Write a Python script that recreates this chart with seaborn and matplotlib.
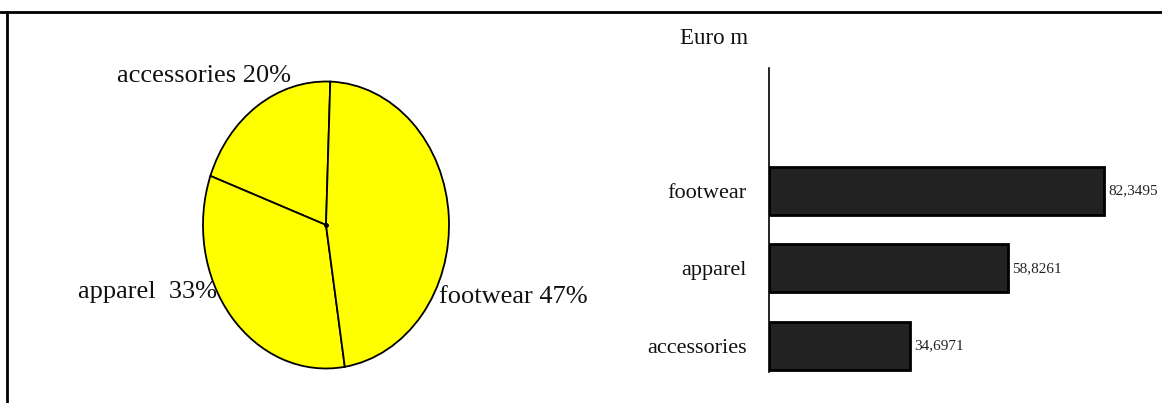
import matplotlib
matplotlib.use("Agg")
import matplotlib.pyplot as plt
import seaborn as sns
import pandas as pd
from matplotlib.lines import Line2D

# ---- data ----
pie_categories = ["accessories", "apparel", "footwear"]
pie_shares = [20, 33, 47]
bar_categories = ["footwear", "apparel", "accessories"]
bar_values = [82.3495, 58.8261, 34.6971]
bar_value_labels = ["82,3495", "58,8261", "34,6971"]
bar_unit = "Euro m"

sns.set_theme(style="white")
plt.rcParams["font.family"] = ["Liberation Serif", "DejaVu Serif"]

W, H = 1162, 403
fig = plt.figure(figsize=(W / 100, H / 100), dpi=100)
fig.patch.set_facecolor("white")

def px_axes(x0, y0, x1, y1):
    return fig.add_axes([x0 / W, 1 - y1 / H, (x1 - x0) / W, (y1 - y0) / H])

# frame lines (top and left)
fig.add_artist(Line2D([0, 1], [1 - 12 / H, 1 - 12 / H], transform=fig.transFigure,
                      color="black", lw=2))
fig.add_artist(Line2D([7 / W, 7 / W], [0, 1 - 12 / H], transform=fig.transFigure,
                      color="black", lw=2))

# ---- pie (elliptical) ----
cx, cy, rx, ry = 326, 225, 123, 143.5
lim = 1.6
axp = px_axes(cx - rx * lim, cy - ry * lim, cx + rx * lim, cy + ry * lim)
wedges, _ = axp.pie(pie_shares, colors=["#FFFF00"] * 3, startangle=88,
                    counterclock=True, radius=1.0,
                    wedgeprops=dict(edgecolor="black", linewidth=1.3))
axp.set_aspect("auto")
axp.set_xlim(-lim, lim)
axp.set_ylim(-lim, lim)
axp.axis("off")
axp.plot([0], [0], marker="o", ms=2.5, color="black")

def pie_text(px, py, s, ha):
    axp.text((px - cx) / rx, (cy - py) / ry, s, ha=ha, va="center",
             fontsize=19, color="#111111")

pie_text(291, 76, f"{pie_categories[0]} {pie_shares[0]}%", "right")
pie_text(217, 292, f"{pie_categories[1]}  {pie_shares[1]}%", "right")
pie_text(439, 297, f"{pie_categories[2]} {pie_shares[2]}%", "left")

# ---- horizontal bars ----
xmax = 90.0
ax = px_axes(769, 68, 769 + 335 * xmax / bar_values[0], 372)
df = pd.DataFrame({"category": bar_categories, "value": bar_values})
sns.barplot(data=df, x="value", y="category", orient="h", ax=ax,
            color="#222222", edgecolor="black", linewidth=2, width=0.62,
            saturation=1)
ax.set_xlim(0, xmax)
ax.set_ylim(2.34, -1.59)
ax.set_xlabel("")
ax.set_ylabel("")
ax.set_xticks([])
for s in ["top", "right", "bottom"]:
    ax.spines[s].set_visible(False)
ax.spines["left"].set_color("black")
ax.spines["left"].set_linewidth(1.2)
ax.tick_params(axis="y", length=0, pad=16, labelsize=16, labelcolor="#111111")
for t in ax.get_yticklabels():
    t.set_y(t.get_position()[1])
ax.set_facecolor("none")

for i, (v, lab) in enumerate(zip(bar_values, bar_value_labels)):
    ax.annotate(lab, (v, i), xytext=(3, 0), textcoords="offset points",
                ha="left", va="center", fontsize=11, color="#222222",
                annotation_clip=False)

fig.text(680 / W, 1 - 39 / H, bar_unit, ha="left", va="center", fontsize=16.5,
         color="#111111")

fig.savefig("out.png", dpi=100)
